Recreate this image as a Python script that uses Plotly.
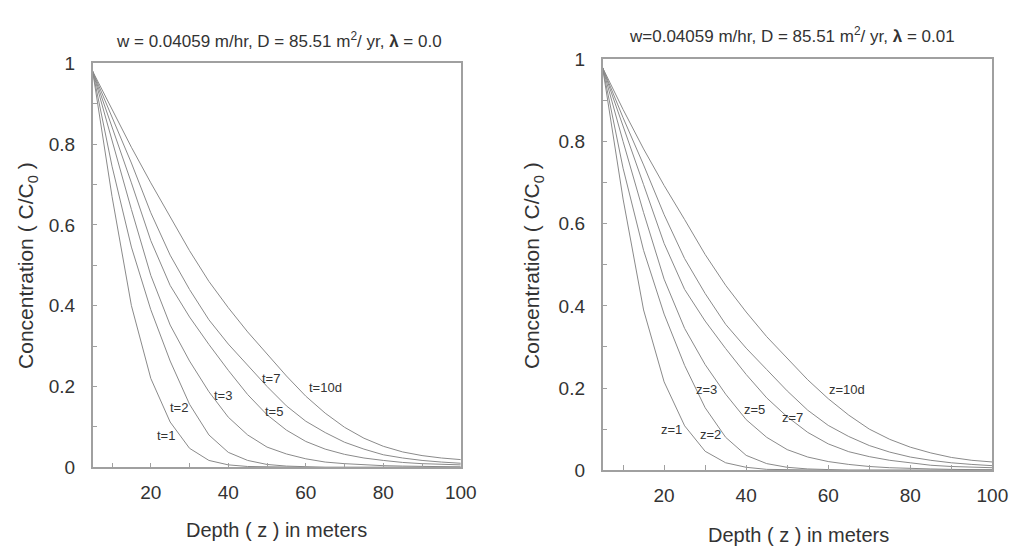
import plotly.graph_objects as go

# Depth grid (m)
depth = [5, 10, 15, 20, 25, 30, 35, 40, 45, 50, 55, 60, 65, 70, 75, 80, 85, 90, 95, 100]

# Left panel: lambda = 0.0
left_names = ["t=1", "t=2", "t=3", "t=5", "t=7", "t=10d"]
left_t1 = [0.98, 0.67, 0.40, 0.22, 0.112, 0.047, 0.017, 0.006, 0.002, 0.001, 0, 0, 0, 0, 0, 0, 0, 0, 0, 0]
left_t2 = [0.98, 0.745, 0.545, 0.39, 0.263, 0.156, 0.08, 0.037, 0.017, 0.007, 0.003, 0.001, 0, 0, 0, 0, 0, 0, 0, 0]
left_t3 = [0.98, 0.807, 0.638, 0.475, 0.352, 0.263, 0.187, 0.124, 0.08, 0.05, 0.033, 0.021, 0.013, 0.009, 0.006, 0.004, 0.003, 0.002, 0.001, 0.001]
left_t5 = [0.98, 0.843, 0.704, 0.561, 0.45, 0.372, 0.304, 0.24, 0.18, 0.13, 0.092, 0.064, 0.045, 0.032, 0.023, 0.017, 0.012, 0.009, 0.007, 0.006]
left_t7 = [0.98, 0.866, 0.753, 0.63, 0.525, 0.44, 0.365, 0.305, 0.252, 0.2, 0.152, 0.114, 0.086, 0.062, 0.045, 0.031, 0.023, 0.017, 0.013, 0.01]
left_t10 = [0.98, 0.886, 0.792, 0.704, 0.62, 0.536, 0.46, 0.395, 0.335, 0.28, 0.226, 0.176, 0.134, 0.099, 0.072, 0.052, 0.038, 0.029, 0.023, 0.019]

# Right panel: lambda = 0.01
right_names = ["z=1", "z=2", "z=3", "z=5", "z=7", "z=10d"]
right_z1 = [0.98, 0.66, 0.39, 0.215, 0.108, 0.046, 0.018, 0.007, 0.002, 0.001, 0, 0, 0, 0, 0, 0, 0, 0, 0, 0]
right_z2 = [0.98, 0.735, 0.535, 0.38, 0.255, 0.152, 0.08, 0.036, 0.016, 0.007, 0.003, 0.001, 0, 0, 0, 0, 0, 0, 0, 0]
right_z3 = [0.98, 0.80, 0.627, 0.465, 0.345, 0.257, 0.185, 0.123, 0.08, 0.05, 0.032, 0.021, 0.014, 0.009, 0.006, 0.004, 0.003, 0.002, 0.001, 0.001]
right_z5 = [0.98, 0.835, 0.695, 0.552, 0.44, 0.363, 0.296, 0.233, 0.176, 0.13, 0.092, 0.064, 0.045, 0.033, 0.024, 0.018, 0.012, 0.009, 0.007, 0.006]
right_z7 = [0.98, 0.858, 0.743, 0.622, 0.515, 0.43, 0.355, 0.297, 0.245, 0.193, 0.146, 0.109, 0.082, 0.06, 0.044, 0.032, 0.024, 0.018, 0.014, 0.011]
right_z10 = [0.98, 0.878, 0.782, 0.693, 0.61, 0.525, 0.45, 0.385, 0.325, 0.272, 0.22, 0.174, 0.134, 0.1, 0.075, 0.056, 0.042, 0.031, 0.024, 0.02]

# Curve labels (text, x, y)
left_label_text = ["t=1", "t=2", "t=3", "t=5", "t=7", "t=10d"]
left_label_x = [24.0, 27.2, 38.6, 51.9, 50.9, 65.0]
left_label_y = [0.079, 0.148, 0.177, 0.137, 0.219, 0.198]
right_label_text = ["z=1", "z=2", "z=3", "z=5", "z=7", "z=10d"]
right_label_x = [21.8, 31.4, 30.4, 42.0, 51.4, 64.6]
right_label_y = [0.098, 0.087, 0.197, 0.148, 0.129, 0.197]

x_ticks = [20, 40, 60, 80, 100]
y_ticks = [0, 0.2, 0.4, 0.6, 0.8, 1]
y_tick_text = ["0", "0.2", "0.4", "0.6", "0.8", "1"]

FONT = "Liberation Sans, Arial, sans-serif"
LINE_COLOR = "#8a8a8a"
AXIS_COLOR = "#a0a0a0"
TEXT_COLOR = "#333333"

fig = go.Figure()

left_series = [left_t1, left_t2, left_t3, left_t5, left_t7, left_t10]
right_series = [right_z1, right_z2, right_z3, right_z5, right_z7, right_z10]

for name, ys in zip(left_names, left_series):
    fig.add_trace(go.Scatter(x=depth, y=ys, mode="lines", name=name,
                             line=dict(color=LINE_COLOR, width=1),
                             xaxis="x", yaxis="y", showlegend=False))
for name, ys in zip(right_names, right_series):
    fig.add_trace(go.Scatter(x=depth, y=ys, mode="lines", name=name,
                             line=dict(color=LINE_COLOR, width=1),
                             xaxis="x2", yaxis="y2", showlegend=False))

W, H = 1024, 554


def xax(domain, anchor):
    return dict(domain=domain, range=[5, 100], tickvals=x_ticks, anchor=anchor,
                ticks="inside", ticklen=5, tickcolor=AXIS_COLOR,
                showline=True, linecolor=AXIS_COLOR, linewidth=1.5, mirror=True,
                showgrid=False, zeroline=False, ticklabelstandoff=7,
                minor=dict(dtick=10, tick0=0, ticks="inside", ticklen=5, tickcolor=AXIS_COLOR),
                tickfont=dict(family=FONT, size=19, color=TEXT_COLOR), fixedrange=True)


def yax(domain, anchor):
    return dict(domain=domain, range=[0, 1], tickvals=y_ticks, ticktext=y_tick_text,
                ticks="inside", ticklen=5, tickcolor=AXIS_COLOR, anchor=anchor,
                showline=True, linecolor=AXIS_COLOR, linewidth=1.5, mirror=True,
                showgrid=False, zeroline=False, ticklabelstandoff=12,
                minor=dict(dtick=0.1, tick0=0, ticks="inside", ticklen=5, tickcolor=AXIS_COLOR),
                tickfont=dict(family=FONT, size=19, color=TEXT_COLOR), fixedrange=True)


annotations = []
for t, x, y in zip(left_label_text, left_label_x, left_label_y):
    annotations.append(dict(text=t, x=x, y=y, xref="x", yref="y", showarrow=False,
                            xanchor="center", yanchor="middle",
                            font=dict(family=FONT, size=13, color=TEXT_COLOR)))
for t, x, y in zip(right_label_text, right_label_x, right_label_y):
    annotations.append(dict(text=t, x=x, y=y, xref="x2", yref="y2", showarrow=False,
                            xanchor="center", yanchor="middle",
                            font=dict(family=FONT, size=13, color=TEXT_COLOR)))

# Panel titles
annotations.append(dict(text="w = 0.04059 m/hr, D = 85.51 m<sup>2</sup>/ yr, <b>λ</b> = 0.0",
                        x=275 / W, y=1 - 23 / H, xref="paper", yref="paper", showarrow=False,
                        xanchor="center", yanchor="middle",
                        font=dict(family=FONT, size=17, color=TEXT_COLOR)))
annotations.append(dict(text="w=0.04059 m/hr, D = 85.51 m<sup>2</sup>/ yr, <b>λ</b> = 0.01",
                        x=796 / W, y=1 - 18 / H, xref="paper", yref="paper", showarrow=False,
                        xanchor="center", yanchor="middle",
                        font=dict(family=FONT, size=17, color=TEXT_COLOR)))
# Axis titles
for cx, cy in [(273, 532), (803, 537)]:
    annotations.append(dict(text="Depth ( z ) in meters", x=cx / W, y=1 - cy / H,
                            xref="paper", yref="paper", showarrow=False,
                            xanchor="center", yanchor="middle",
                            font=dict(family=FONT, size=20, color=TEXT_COLOR)))
for cx, cy in [(20, 257), (534, 257)]:
    annotations.append(dict(text="Concentration ( C/C<sub>0</sub> )", x=cx / W, y=1 - cy / H,
                            xref="paper", yref="paper", showarrow=False, textangle=-90,
                            xanchor="center", yanchor="middle",
                            font=dict(family=FONT, size=21, color=TEXT_COLOR)))

fig.update_layout(
    width=W, height=H,
    margin=dict(l=0, r=0, t=0, b=0),
    paper_bgcolor="white", plot_bgcolor="white",
    xaxis=xax([86 / W, 460 / W], "y"),
    yaxis=yax([1 - 467 / H, 1 - 47 / H], "x"),
    xaxis2=xax([604 / W, 1000 / W], "y2"),
    yaxis2=yax([1 - 470 / H, 1 - 43 / H], "x2"),
    annotations=annotations,
    showlegend=False,
)

fig.write_html("out.html")
